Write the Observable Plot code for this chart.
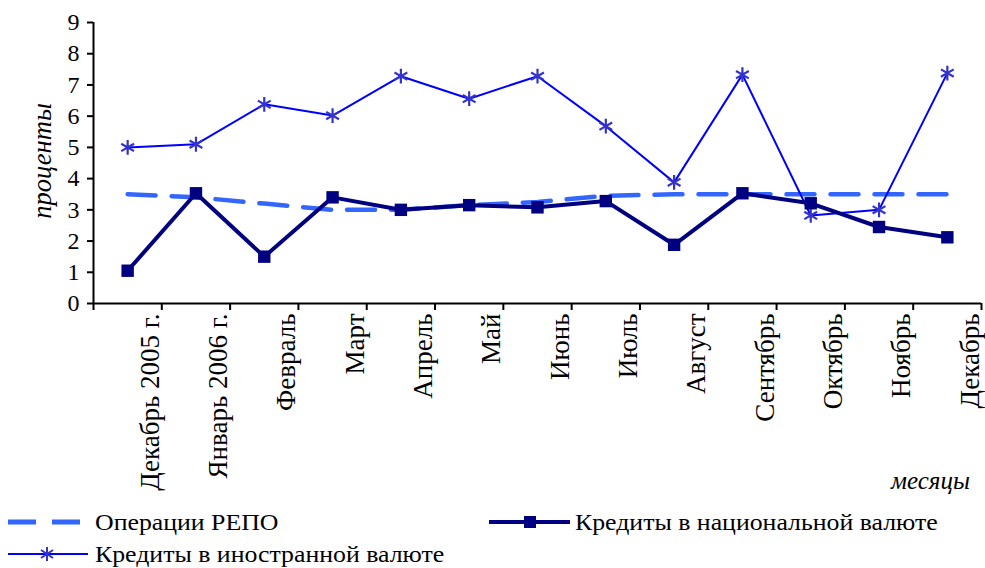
<!DOCTYPE html>
<html>
<head>
<meta charset="utf-8">
<script src="https://cdn.jsdelivr.net/npm/d3@7"></script>
<script src="https://cdn.jsdelivr.net/npm/@observablehq/plot@0.6"></script>
<style>
  html, body { margin: 0; padding: 0; background: #fff; }
  body { width: 985px; height: 568px; position: relative; overflow: hidden; font-family: "Liberation Serif", "Times New Roman", "DejaVu Serif", serif; }
  #chart { position: absolute; left: 0; top: 0; }
  .lbl { position: absolute; font-family: "Liberation Serif", "Times New Roman", "DejaVu Serif", serif; font-size: 24px; color: #000; white-space: nowrap; line-height: 1; transform-origin: 0 50%; }
  .leg { transform: scaleX(1.075); }
  .it { font-style: italic; }
  .sw { position: absolute; }
</style>
</head>
<body>
<div id="chart"></div>
<div class="lbl it" style="left:42px; top:161px; font-size:26.5px; transform-origin: 50% 50%; transform: translate(-50%,-50%) rotate(-90deg);">проценты</div>
<div class="lbl it" style="left:891px; top:468px; font-size:25px;">месяцы</div>

<svg class="sw" style="left:0; top:510px;" width="110" height="60">
  <line x1="8" y1="12" x2="82" y2="12" stroke="#3366FF" stroke-width="5" stroke-dasharray="28,16"/>
  <line x1="8" y1="44" x2="88" y2="44" stroke="#0000FF" stroke-width="2"/>
  <path d="M47,37 V51 M41,40 L53,48 M41,48 L53,40" stroke="#3333CC" stroke-width="2" fill="none"/>
</svg>
<div class="lbl leg" style="left:95px; top:510px;">Операции РЕПО</div>
<div class="lbl leg" style="left:95px; top:542px;">Кредиты в иностранной валюте</div>
<svg class="sw" style="left:480px; top:510px;" width="100" height="25">
  <line x1="9" y1="12" x2="90" y2="12" stroke="#000080" stroke-width="4"/>
  <rect x="44" y="6" width="12" height="12" fill="#000080"/>
</svg>
<div class="lbl leg" style="left:575px; top:510px;">Кредиты в национальной валюте</div>

<script>
const months = ["Декабрь 2005 г.", "Январь 2006 г.", "Февраль", "Март", "Апрель", "Май", "Июнь", "Июль", "Август", "Сентябрь", "Октябрь", "Ноябрь", "Декабрь"];
const repo = [3.5, 3.4, 3.2, 3.0, 3.0, 3.15, 3.25, 3.45, 3.5, 3.5, 3.5, 3.5, 3.5];
const national = [1.05, 3.53, 1.5, 3.4, 3.0, 3.15, 3.08, 3.28, 1.88, 3.53, 3.21, 2.45, 2.12];
const foreign = [5.0, 5.1, 6.38, 6.02, 7.28, 6.56, 7.28, 5.68, 3.88, 7.33, 2.82, 3.0, 7.38];
const yTicks = [0, 1, 2, 3, 4, 5, 6, 7, 8, 9];

const rows = (vals) => vals.map((v, i) => ({i, v}));
const FONT = "'Liberation Serif', 'Times New Roman', 'DejaVu Serif', serif";

const chart = Plot.plot({
  width: 985,
  height: 500,
  marginTop: 22,
  marginBottom: 197,
  marginLeft: 93,
  marginRight: 4,
  style: {fontFamily: FONT, fontSize: "24px", background: "#fff", overflow: "visible"},
  x: {type: "linear", domain: [-0.5, 12.5], axis: null},
  y: {domain: [0, 9], axis: null},
  marks: [
    Plot.ruleX([-0.5], {y1: 0, y2: 9, stroke: "#000", strokeWidth: 2}),
    Plot.ruleY([0], {x1: -0.5, x2: 12.5, stroke: "#000", strokeWidth: 2}),
    Plot.axisY({ticks: yTicks, label: null, tickSize: 6, tickPadding: 8, strokeWidth: 2, stroke: "#000", fill: "#000", fontSize: 24, tickFormat: d => String(d)}),
    Plot.axisX({ticks: d3.range(-0.5, 13, 1), label: null, tickFormat: () => "", tickSize: 7, strokeWidth: 2, stroke: "#000"}),
    Plot.text(months, {x: (d, i) => i + 0.5, y: () => 0, text: d => d, rotate: -90, textAnchor: "end", lineAnchor: "bottom", dy: 10, dx: -3, fontSize: 27, fill: "#000"}),
    Plot.line(rows(repo), {x: "i", y: "v", stroke: "#3366FF", strokeWidth: 4.5, strokeDasharray: "28,16"}),
    Plot.line(rows(foreign), {x: "i", y: "v", stroke: "#0000FF", strokeWidth: 2}),
    Plot.dot(rows(foreign), {x: "i", y: "v", symbol: "asterisk", r: 7, stroke: "#3333CC", strokeWidth: 2.2}),
    Plot.line(rows(national), {x: "i", y: "v", stroke: "#000080", strokeWidth: 4}),
    Plot.dot(rows(national), {x: "i", y: "v", symbol: "square", r: 7, fill: "#000080", stroke: "none"})
  ]
});
document.getElementById("chart").appendChild(chart);
</script>
</body>
</html>
